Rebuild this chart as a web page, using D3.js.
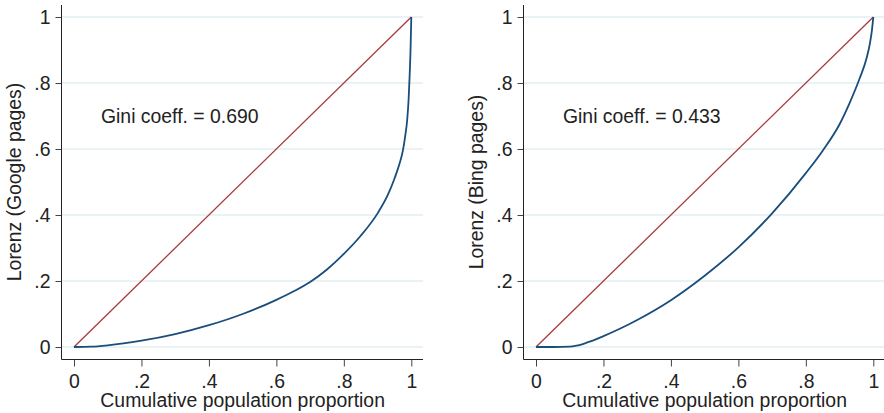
<!DOCTYPE html>
<html>
<head>
<meta charset="utf-8">
<script src="https://cdn.jsdelivr.net/npm/d3@7"></script>
<style>
  body { margin: 0; background: #fff; }
  text { font-family: 'Liberation Sans', Arial, sans-serif; fill: #222; }
</style>
</head>
<body>
<svg width="884" height="413"></svg>
<script>
// Lorenz curves.
const tickValues = [0, 0.2, 0.4, 0.6, 0.8, 1];
const tickLabels = ['0', '.2', '.4', '.6', '.8', '1'];

const googleX = [0, 0.05, 0.1, 0.2, 0.3, 0.4, 0.5, 0.6, 0.65, 0.7, 0.75, 0.8, 0.85, 0.9, 0.93, 0.95, 0.965, 0.975, 0.982, 0.988, 0.992, 0.995, 0.998, 1];
const googleY = [0, 0.001, 0.005, 0.019, 0.039, 0.066, 0.1, 0.143, 0.168, 0.197, 0.235, 0.282, 0.337, 0.405, 0.46, 0.51, 0.555, 0.595, 0.64, 0.69, 0.75, 0.82, 0.91, 1];

const bingX = [0, 0.05, 0.1, 0.12, 0.15, 0.2, 0.25, 0.3, 0.4, 0.5, 0.6, 0.7, 0.8, 0.85, 0.9, 0.93, 0.96, 0.98, 0.99, 0.996, 1];
const bingY = [0, 0, 0.001, 0.004, 0.013, 0.033, 0.056, 0.082, 0.142, 0.216, 0.302, 0.405, 0.527, 0.595, 0.675, 0.74, 0.815, 0.875, 0.92, 0.96, 1];

const equalityX = [0, 1];
const equalityY = [0, 1];

const yTitles = ['Lorenz (Google pages)', 'Lorenz (Bing pages)'];
const giniLabels = ['Gini coeff. = 0.690', 'Gini coeff. = 0.433'];
const xTitle = 'Cumulative population proportion';

const panels = [
  { xs: googleX, ys: googleY, yTitle: yTitles[0], gini: giniLabels[0], offset: 0 },
  { xs: bingX, ys: bingY, yTitle: yTitles[1], gini: giniLabels[1], offset: 462 }
];

const svg = d3.select('svg');
const fontSize = 19.4;

panels.forEach(p => {
  const g = svg.append('g').attr('transform', `translate(${p.offset},0)`);

  // frame of the plot region
  const left = 61.5, right = 423, top = 5, bottom = 359.5;

  const xScale = d3.scaleLinear().domain([0, 1]).range([74, 411.3]);
  const yScale = d3.scaleLinear().domain([0, 1]).range([347, 17]);

  // grid lines
  g.selectAll('line.grid')
    .data(tickValues)
    .enter()
    .append('line')
    .attr('class', 'grid')
    .attr('x1', left + 0.5)
    .attr('x2', right)
    .attr('y1', d => yScale(d))
    .attr('y2', d => yScale(d))
    .style('stroke', '#e2eef0')
    .style('stroke-width', 1.6);

  // y axis
  const yAxis = d3.axisLeft(yScale)
    .tickValues(tickValues)
    .tickFormat((d, i) => tickLabels[i])
    .tickSize(6)
    .tickPadding(5);
  const ya = g.append('g').attr('transform', `translate(${left},0)`).call(yAxis);
  ya.select('.domain').remove();
  ya.append('line')
    .attr('x1', 0).attr('x2', 0)
    .attr('y1', top).attr('y2', bottom)
    .style('stroke', '#222');

  // x axis
  const xAxis = d3.axisBottom(xScale)
    .tickValues(tickValues)
    .tickFormat((d, i) => tickLabels[i])
    .tickSize(7)
    .tickPadding(8);
  const xa = g.append('g').attr('transform', `translate(0,${bottom})`).call(xAxis);
  xa.select('.domain').remove();
  xa.append('line')
    .attr('x1', left).attr('x2', right)
    .attr('y1', 0).attr('y2', 0)
    .style('stroke', '#222');

  [ya, xa].forEach(a => {
    a.selectAll('.tick line').style('stroke', '#444');
    a.selectAll('.tick text')
      .style('font-size', fontSize + 'px')
      .style('font-family', "'Liberation Sans', Arial, sans-serif")
      .attr('fill', '#222');
  });

  // axis titles
  g.append('text')
    .text(xTitle)
    .attr('x', (xScale(0) + xScale(1)) / 2)
    .attr('y', 407)
    .attr('text-anchor', 'middle')
    .style('font-size', fontSize + 'px');

  g.append('text')
    .text(p.yTitle)
    .attr('transform', `translate(21,${(yScale(0) + yScale(1)) / 2}) rotate(-90)`)
    .attr('text-anchor', 'middle')
    .style('font-size', fontSize + 'px');

  // line of equality
  const line = d3.line()
    .x(d => xScale(d[0]))
    .y(d => yScale(d[1]));

  g.append('path')
    .datum(equalityX.map((x, i) => [x, equalityY[i]]))
    .attr('d', line)
    .style('fill', 'none')
    .style('stroke', '#a8393f')
    .style('stroke-width', 1.3);

  // Lorenz curve
  const curve = d3.line()
    .x(d => xScale(d[0]))
    .y(d => yScale(d[1]))
    .curve(d3.curveMonotoneX);

  g.append('path')
    .datum(p.xs.map((x, i) => [x, p.ys[i]]))
    .attr('d', curve)
    .style('fill', 'none')
    .style('stroke', '#1a4d7a')
    .style('stroke-width', 1.8);

  // Gini label
  g.append('text')
    .text(p.gini)
    .attr('x', xScale(0.08))
    .attr('y', yScale(0.7))
    .attr('dy', '0.35em')
    .style('font-size', fontSize + 'px');
});
</script>
</body>
</html>
